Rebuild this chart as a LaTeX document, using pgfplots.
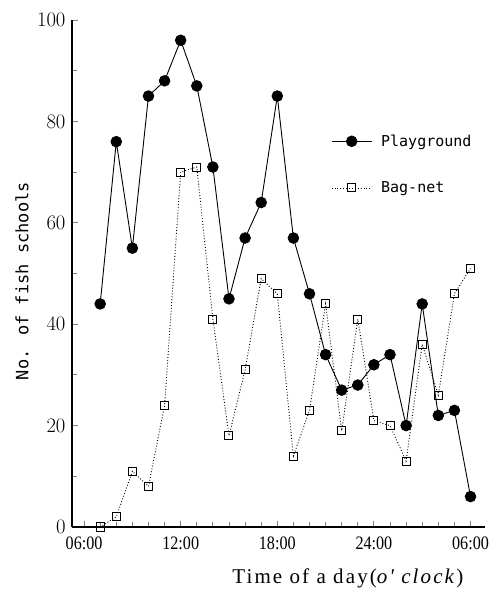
\documentclass[border=0pt]{standalone}
\usepackage{fontspec}
\setmainfont{Liberation Serif}
\newfontfamily\tickf[FakeStretch=0.85]{Liberation Serif}
\newfontfamily\monof{DejaVu Sans Mono}
\newfontfamily\xlabf[LetterSpace=10]{Liberation Serif}
\usepackage{pgfplots}
\pgfplotsset{compat=1.18}
\begin{document}
\begin{tikzpicture}
\path[use as bounding box] (-72bp,-66bp) rectangle (421bp,527bp);
\begin{axis}[
  scale only axis,
  width=413bp, height=507bp,
  xmin=5.25, xmax=30.9, ymin=0, ymax=100,
  axis x line=bottom, axis y line=left,
  axis line style={-, line width=1.1bp},
  xtick={6,12,18,24,30},
  xticklabels={06:00,12:00,18:00,24:00,06:00},
  minor xtick={6,...,30},
  ytick={0,20,40,60,80,100},
  minor ytick={10,30,50,70,90},
  tick align=inside,
  major tick length=6bp, minor tick length=5bp,
  tick style={line width=0.9bp},
  tick label style={font=\tickf\fontsize{19bp}{21bp}\selectfont},
  xticklabel style={yshift=-6bp},
  yticklabel style={xshift=-3bp},
  xlabel={Time of a day(\textit{o' clock})},
  xlabel style={font=\xlabf\fontsize{21bp}{24bp}\selectfont, at={(axis description cs:0.668,0)}, anchor=center, yshift=-51bp},
  ylabel={No. of fish schools},
  ylabel style={font=\monof\fontsize{17bp}{20bp}\selectfont, at={(axis description cs:-0.121,0.485)}, anchor=center},
  legend style={draw=none, fill=none, font=\monof\fontsize{15bp}{17bp}\selectfont,
    at={(axis description cs:0.62,0.715)}, anchor=west, row sep=30bp},
  legend cell align=left,
  legend image code/.code={\draw[mark repeat=2,mark phase=2,#1] plot coordinates {(0bp,0bp) (20bp,0bp) (40bp,0bp)};\path (47bp,0bp);},
]
\addplot[black, line width=0.9bp, mark=*, mark size=5.3bp] coordinates {
(7,44) (8,76) (9,55) (10,85) (11,88) (12,96) (13,87) (14,71) (15,45) (16,57)
(17,64) (18,85) (19,57) (20,46) (21,34) (22,27) (23,28) (24,32) (25,34) (26,20)
(27,44) (28,22) (29,23) (30,6)};
\addlegendentry{Playground}
\addplot[black, line width=0.9bp, dotted, mark=square, mark size=4bp, mark options={solid, fill=white, line width=1bp}] coordinates {
(7,0) (8,2) (9,11) (10,8) (11,24) (12,70) (13,71) (14,41) (15,18) (16,31)
(17,49) (18,46) (19,14) (20,23) (21,44) (22,19) (23,41) (24,21) (25,20) (26,13)
(27,36) (28,26) (29,46) (30,51)};
\addlegendentry{Bag-net}
\end{axis}
\end{tikzpicture}
\end{document}
